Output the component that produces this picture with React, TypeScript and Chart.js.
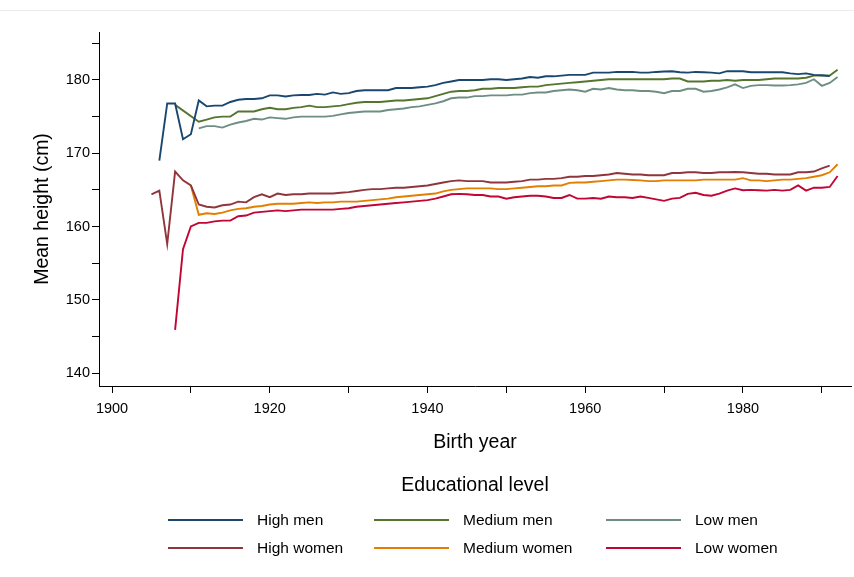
import React, { useEffect, useRef } from "react";
import { Chart, registerables } from "chart.js";

Chart.register(...registerables);

// Birth cohorts, 1905–1992
const years = [
  1905, 1906, 1907, 1908, 1909, 1910, 1911, 1912, 1913, 1914,
  1915, 1916, 1917, 1918, 1919, 1920, 1921, 1922, 1923, 1924,
  1925, 1926, 1927, 1928, 1929, 1930, 1931, 1932, 1933, 1934,
  1935, 1936, 1937, 1938, 1939, 1940, 1941, 1942, 1943, 1944,
  1945, 1946, 1947, 1948, 1949, 1950, 1951, 1952, 1953, 1954,
  1955, 1956, 1957, 1958, 1959, 1960, 1961, 1962, 1963, 1964,
  1965, 1966, 1967, 1968, 1969, 1970, 1971, 1972, 1973, 1974,
  1975, 1976, 1977, 1978, 1979, 1980, 1981, 1982, 1983, 1984,
  1985, 1986, 1987, 1988, 1989, 1990, 1991, 1992,
];

const highMen = [
  null, 169.0, 176.8, 176.8, 171.9, 172.6, 177.2, 176.4, 176.5, 176.5,
  177.0, 177.3, 177.4, 177.4, 177.5, 177.9, 177.9, 177.75, 177.9, 177.95,
  177.95, 178.1, 178.0, 178.3, 178.1, 178.2, 178.5, 178.6, 178.6, 178.6,
  178.6, 178.9, 178.9, 178.9, 179.0, 179.1, 179.3, 179.6, 179.8, 180.0,
  180.0, 180.0, 180.0, 180.1, 180.1, 180.0, 180.1, 180.2, 180.4, 180.3,
  180.5, 180.5, 180.6, 180.7, 180.7, 180.7, 181.0, 181.0, 181.0, 181.1,
  181.1, 181.1, 181.0, 181.0, 181.1, 181.15, 181.2, 181.05, 181.0, 181.1,
  181.05, 181.0, 180.9, 181.2, 181.2, 181.2, 181.05, 181.05, 181.05, 181.05,
  181.05, 180.9, 180.8, 180.9, 180.7, 180.65, 180.55, null,
];

const mediumMen = [
  null, null, null, 176.6, null, null, 174.3, 174.6, 174.9, 175.0,
  175.0, 175.7, 175.7, 175.7, 176.0, 176.2, 176.0, 176.0, 176.2, 176.3,
  176.5, 176.3, 176.3, 176.4, 176.5, 176.7, 176.9, 177.0, 177.0, 177.0,
  177.1, 177.2, 177.2, 177.3, 177.4, 177.5, 177.8, 178.1, 178.4, 178.5,
  178.5, 178.6, 178.8, 178.8, 178.9, 178.9, 178.9, 179.0, 179.1, 179.1,
  179.3, 179.4, 179.5, 179.6, 179.7, 179.8, 179.9, 180.0, 180.1, 180.1,
  180.1, 180.1, 180.1, 180.1, 180.1, 180.1, 180.2, 180.2, 179.8, 179.8,
  179.8, 179.9, 179.9, 180.0, 179.9, 180.0, 180.0, 180.0, 180.1, 180.2,
  180.2, 180.2, 180.2, 180.3, 180.6, 180.6, 180.6, 181.4,
];

const lowMen = [
  null, null, null, null, null, null, 173.4, 173.7, 173.7, 173.5,
  173.9, 174.2, 174.4, 174.7, 174.6, 174.9, 174.8, 174.7, 174.9, 175.0,
  175.0, 175.0, 175.0, 175.1, 175.3, 175.5, 175.6, 175.7, 175.7, 175.7,
  175.9, 176.0, 176.1, 176.3, 176.4, 176.6, 176.8, 177.1, 177.5, 177.6,
  177.6, 177.8, 177.8, 177.9, 177.9, 177.9, 178.0, 178.0, 178.2, 178.3,
  178.3, 178.5, 178.6, 178.7, 178.6, 178.4, 178.8, 178.7, 178.9, 178.7,
  178.6, 178.6, 178.5, 178.5, 178.4, 178.2, 178.5, 178.5, 178.8, 178.8,
  178.4, 178.5, 178.7, 179.0, 179.4, 178.9, 179.2, 179.3, 179.3, 179.25,
  179.25, 179.3, 179.4, 179.6, 180.1, 179.2, 179.6, 180.4,
];

const highWomen = [
  164.4, 164.9, 157.6, 167.5, 166.3, 165.6, 163.0, 162.7, 162.6, 162.9,
  163.0, 163.4, 163.3, 164.0, 164.4, 164.0, 164.5, 164.3, 164.4, 164.4,
  164.5, 164.5, 164.5, 164.5, 164.6, 164.7, 164.85, 165.0, 165.1, 165.1,
  165.2, 165.3, 165.3, 165.4, 165.5, 165.6, 165.8, 166.0, 166.2, 166.3,
  166.2, 166.2, 166.2, 166.0, 166.0, 166.0, 166.1, 166.2, 166.4, 166.4,
  166.5, 166.5, 166.6, 166.8, 166.8, 166.9, 166.9, 167.0, 167.1, 167.3,
  167.2, 167.1, 167.1, 167.0, 167.0, 167.0, 167.3, 167.3, 167.4, 167.4,
  167.3, 167.3, 167.4, 167.4, 167.45, 167.4, 167.3, 167.2, 167.2, 167.1,
  167.1, 167.1, 167.4, 167.4, 167.5, 167.95, 168.3, null,
];

const mediumWomen = [
  null, null, null, null, null, 165.6, 161.6, 161.8, 161.7, 161.9,
  162.2, 162.4, 162.5, 162.7, 162.8, 163.0, 163.1, 163.1, 163.1, 163.2,
  163.3, 163.2, 163.3, 163.3, 163.4, 163.4, 163.4, 163.5, 163.6, 163.7,
  163.8, 164.0, 164.1, 164.2, 164.3, 164.4, 164.5, 164.8, 165.0, 165.1,
  165.2, 165.2, 165.2, 165.2, 165.1, 165.1, 165.2, 165.3, 165.4, 165.5,
  165.5, 165.6, 165.6, 165.95, 166.0, 166.0, 166.1, 166.2, 166.3, 166.4,
  166.4, 166.35, 166.3, 166.2, 166.2, 166.3, 166.3, 166.3, 166.3, 166.3,
  166.4, 166.4, 166.4, 166.4, 166.4, 166.6, 166.3, 166.3, 166.2, 166.3,
  166.4, 166.4, 166.5, 166.6, 166.8, 167.0, 167.4, 168.5,
];

const lowWomen = [
  null, null, null, 145.9, 156.9, 160.0, 160.5, 160.5, 160.7, 160.8,
  160.8, 161.4, 161.5, 161.9, 162.0, 162.1, 162.2, 162.1, 162.2, 162.3,
  162.3, 162.3, 162.3, 162.3, 162.4, 162.5, 162.7, 162.8, 162.9, 163.0,
  163.1, 163.2, 163.3, 163.4, 163.5, 163.6, 163.8, 164.1, 164.4, 164.45,
  164.4, 164.3, 164.3, 164.1, 164.1, 163.8, 164.0, 164.1, 164.2, 164.2,
  164.1, 163.9, 163.9, 164.3, 163.8, 163.8, 163.9, 163.8, 164.1, 164.0,
  164.0, 163.9, 164.1, 163.9, 163.7, 163.5, 163.8, 163.9, 164.45, 164.6,
  164.3, 164.2, 164.5, 164.9, 165.2, 164.95, 165.0, 164.95, 164.9, 165.0,
  164.9, 165.0, 165.6, 164.9, 165.3, 165.3, 165.4, 166.9,
];

const seriesLabels = [
  "High men", "Medium men", "Low men",
  "High women", "Medium women", "Low women",
];
const seriesValues = [highMen, mediumMen, lowMen, highWomen, mediumWomen, lowWomen];
const seriesColors = ["#1a476f", "#55752f", "#6e8e84", "#90353b", "#e37e00", "#c10534"];

const xTickYears = [1900, 1910, 1920, 1930, 1940, 1950, 1960, 1970, 1980, 1990];
const xLabelYears = [1900, 1920, 1940, 1960, 1980];
const yTickValues = [140, 145, 150, 155, 160, 165, 170, 175, 180, 185];
const yLabelValues = [140, 150, 160, 170, 180];

const FONT = '"Liberation Sans", Arial, Helvetica, sans-serif';
const LEGEND_TITLE = "Educational level";

// Three-column legend with a centred title, drawn under the plot,
// plus the thin outline along the top of the graph region
const gridLegend = {
  id: "gridLegend",
  afterDraw(chart: any) {
    const { ctx, width } = chart;
    const area = chart.chartArea;
    ctx.save();
    ctx.strokeStyle = "#ececec";
    ctx.lineWidth = 1;
    ctx.beginPath();
    ctx.moveTo(0, 10.5);
    ctx.lineTo(width, 10.5);
    ctx.stroke();

    ctx.fillStyle = "#000";
    ctx.textBaseline = "middle";
    ctx.textAlign = "center";
    ctx.font = `19.5px ${FONT}`;
    ctx.fillText(LEGEND_TITLE, (area.left + area.right) / 2, 486);

    const colStarts = [168, 374, 606].map((v) => (v / 854) * width);
    const rowYs = [520, 548];
    const lineLen = 75;
    ctx.font = `15.5px ${FONT}`;
    ctx.textAlign = "left";
    seriesLabels.forEach((label, i) => {
      const col = i % 3;
      const row = Math.floor(i / 3);
      const x0 = colStarts[col];
      const y = rowYs[row];
      ctx.strokeStyle = seriesColors[i];
      ctx.lineWidth = 2;
      ctx.beginPath();
      ctx.moveTo(x0, y);
      ctx.lineTo(x0 + lineLen, y);
      ctx.stroke();
      ctx.fillStyle = "#000";
      ctx.fillText(label, x0 + lineLen + 14, y + 1);
    });
    ctx.restore();
  },
};

export default function App() {
  const canvasRef = useRef<HTMLCanvasElement | null>(null);

  useEffect(() => {
    document.body.style.margin = "0";
    const canvas = canvasRef.current;
    if (!canvas) return;

    const datasets = seriesLabels.map((label, i) => ({
      label,
      data: years.map((yr, j) => ({ x: yr, y: seriesValues[i][j] })),
      borderColor: seriesColors[i],
      backgroundColor: seriesColors[i],
      borderWidth: 1.9,
      pointRadius: 0,
      tension: 0,
      spanGaps: true,
    }));

    const chart = new Chart(canvas, {
      type: "line",
      data: { datasets },
      options: {
        animation: false,
        responsive: false,
        maintainAspectRatio: false,
        layout: { padding: { top: 32, right: 3, left: 0, bottom: 0 } },
        plugins: {
          legend: { display: false },
          tooltip: { enabled: false },
        },
        scales: {
          x: {
            type: "linear",
            min: 1898.35,
            max: 1993.7,
            afterFit: (scale: any) => {
              scale.height = 191;
            },
            afterBuildTicks: (scale: any) => {
              scale.ticks = xTickYears.map((v) => ({ value: v }));
            },
            grid: {
              drawOnChartArea: false,
              drawTicks: true,
              tickLength: 7,
              tickColor: "#000",
              tickWidth: 1,
            },
            border: { display: true, color: "#000", width: 1 },
            ticks: {
              color: "#000",
              font: { family: FONT, size: 14.5 },
              padding: 7,
              maxRotation: 0,
              autoSkip: false,
              callback: (v: any) => (xLabelYears.includes(Number(v)) ? String(v) : ""),
            },
            title: {
              display: true,
              text: "Birth year",
              color: "#000",
              font: { family: FONT, size: 19.5 },
              padding: { top: 0, bottom: 123 },
            },
          },
          y: {
            type: "linear",
            min: 138.23,
            max: 186.55,
            afterFit: (scale: any) => {
              scale.width = 99;
            },
            afterBuildTicks: (scale: any) => {
              scale.ticks = yTickValues.map((v) => ({ value: v }));
            },
            grid: {
              drawOnChartArea: false,
              drawTicks: true,
              tickLength: 7,
              tickColor: "#000",
              tickWidth: 1,
            },
            border: { display: true, color: "#000", width: 1 },
            ticks: {
              color: "#000",
              font: { family: FONT, size: 14.5 },
              padding: 2,
              autoSkip: false,
              callback: (v: any) => (yLabelValues.includes(Number(v)) ? String(v) : ""),
            },
            title: {
              display: true,
              text: "Mean height (cm)",
              color: "#000",
              font: { family: FONT, size: 19.5 },
              padding: { top: 31, bottom: 0 },
            },
          },
        },
      },
      plugins: [gridLegend],
    });

    return () => chart.destroy();
  }, []);

  return (
    <div style={{ width: 854, height: 577, background: "#fff" }}>
      <canvas ref={canvasRef} width={854} height={577} />
    </div>
  );
}
